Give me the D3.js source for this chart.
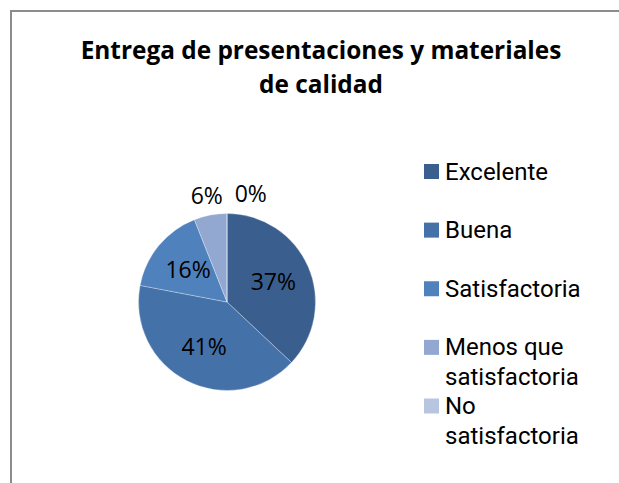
<html>
<head>
<script src="https://d3js.org/d3.v7.min.js"></script>
<style>
  body { margin: 0; background: #fff; }
  text { font-family: "Open Sans", sans-serif; fill: #000; }
  .title { font-weight: bold; font-size: 24.4px; text-anchor: middle; }
  .lbl { font-size: 23px; text-anchor: middle; }
  .leg { font-family: Roboto, "Open Sans", sans-serif; font-size: 24px; }
</style>
</head>
<body>
<svg id="chart" width="619" height="483"></svg>
<script>
const categories = ["Excelente", "Buena", "Satisfactoria", "Menos que satisfactoria", "No satisfactoria"];
const values = [37, 41, 16, 6, 0];
const colors = ["#3A5F8E", "#4571A9", "#4F81BD", "#93A8D0", "#B8C5E1"];
const titleLines = ["Entrega de presentaciones y materiales", "de calidad"];

const svg = d3.select("#chart");

// chart frame
svg.append("rect")
  .attr("x", 11).attr("y", 11)
  .attr("width", 640).attr("height", 500)
  .attr("fill", "none")
  .attr("stroke", "#8c8c8c")
  .attr("stroke-width", 2);

svg.selectAll(".title")
  .data(titleLines)
  .enter().append("text")
  .attr("class", "title")
  .attr("x", 321)
  .attr("y", (d, i) => 59 + i * 34)
  .text(d => d);

const cx = 227, cy = 302, r = 88.5;
const g = svg.append("g").attr("transform", `translate(${cx},${cy})`);

const pie = d3.pie().sort(null).value(d => d);
const arcs = pie(values);
const arc = d3.arc().innerRadius(0).outerRadius(r);

g.selectAll("path")
  .data(arcs)
  .enter().append("path")
  .attr("d", arc)
  .attr("fill", (d, i) => colors[i])
  .attr("stroke", "#fff")
  .attr("stroke-width", 0.5)
  .attr("stroke-opacity", 0.6);

// labels: big slices inside, small ones outside, nudged apart
const inner = d3.arc().innerRadius(r * 0.57).outerRadius(r * 0.57);
const outer = d3.arc().innerRadius(r * 1.22).outerRadius(r * 1.22);
let lastX = -Infinity;
arcs.forEach((a, i) => {
  const small = a.endAngle - a.startAngle < 0.5;
  let [x, y] = small ? outer.centroid(a) : inner.centroid(a);
  if (small) {
    if (x < lastX + 44) x = lastX + 44;
    lastX = x;
  }
  g.append("text")
    .attr("class", "lbl")
    .attr("x", x)
    .attr("y", y)
    .attr("dy", "0.35em")
    .text(d3.format(".0%")(values[i] / 100));
});

// legend
const wraps = { "Menos que satisfactoria": ["Menos que", "satisfactoria"], "No satisfactoria": ["No", "satisfactoria"] };
const legY = d3.scalePoint().domain(categories).range([171.5, 406]);

const leg = svg.selectAll(".legItem")
  .data(categories)
  .enter().append("g")
  .attr("transform", d => `translate(424,${legY(d)})`);

leg.append("rect")
  .attr("x", 0).attr("y", -7.5)
  .attr("width", 15).attr("height", 15)
  .attr("fill", (d, i) => colors[i]);

leg.each(function(d) {
  const lines = wraps[d] || [d];
  const t = d3.select(this).append("text").attr("class", "leg").attr("x", 21).attr("y", 8);
  lines.forEach((l, j) => t.append("tspan").attr("x", 21).attr("dy", j ? 30 : 0).text(l));
});
</script>
</body>
</html>
